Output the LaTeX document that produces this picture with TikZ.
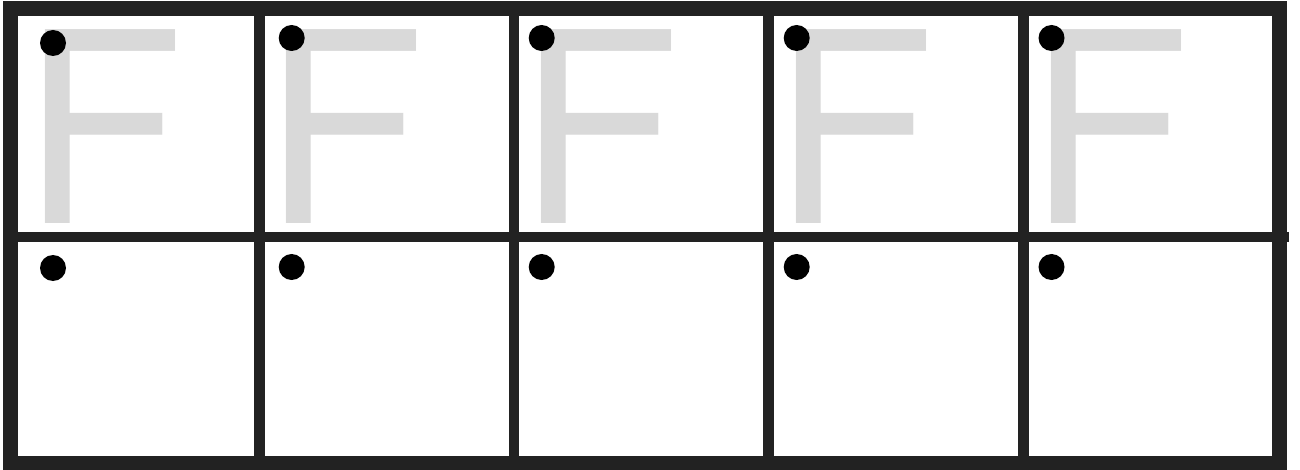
\documentclass[tikz,border=0pt]{standalone}
\usepackage{fontspec}
\setmainfont{TeX Gyre Heros}
\definecolor{gridc}{HTML}{222222}
\definecolor{fgray}{HTML}{D9D9D9}
\tikzset{
  bigF/.style={anchor=base west, inner sep=0pt, outer sep=0pt, text=fgray,
    font=\fontsize{266}{266}\selectfont},
  dotnode/.style={circle, fill=black, draw=none, minimum size=26pt, inner sep=0pt},
  frameline/.style={draw=gridc, line width=15pt},
  gridline/.style={draw=gridc, line width=10.5pt},
}
\begin{document}
\begin{tikzpicture}[x=1pt, y=-1pt]
\useasboundingbox (0,0) rectangle (1300,470);
\fill[white] (0,0) rectangle (1300,470);
% letters
\node[bigF] (f1) at (21.6,223.5) {F};
\node[bigF] (f2) at (262.8,223.5) {F};
\node[bigF] (f3) at (517.8,223.5) {F};
\node[bigF] (f4) at (772.6,223.5) {F};
\node[bigF] (f5) at (1027.4,223.5) {F};
% grid
\coordinate (hl) at (3,237);
\coordinate (hr) at (1289,237);
\draw[gridline] (hl) -- (hr);
\foreach \x [count=\i] in {259.5,514,768.5,1023.5}{
  \coordinate (vt\i) at (\x,8.5);
  \coordinate (vb\i) at (\x,463.5);
  \draw[gridline] (vt\i) -- (vb\i);
}
\coordinate (tl) at (10.5,8.5);
\coordinate (br) at (1279.5,463.5);
\draw[frameline] (tl) rectangle (br);
% dots
\node[dotnode] (d11) at (53,43) {};
\node[dotnode] (d12) at (291.7,38) {};
\node[dotnode] (d13) at (541.7,38) {};
\node[dotnode] (d14) at (796.7,38) {};
\node[dotnode] (d15) at (1051.5,38) {};
\node[dotnode] (d21) at (53,268) {};
\node[dotnode] (d22) at (291.7,267) {};
\node[dotnode] (d23) at (541.7,267) {};
\node[dotnode] (d24) at (796.7,267) {};
\node[dotnode] (d25) at (1051.5,267) {};
\end{tikzpicture}
\end{document}
